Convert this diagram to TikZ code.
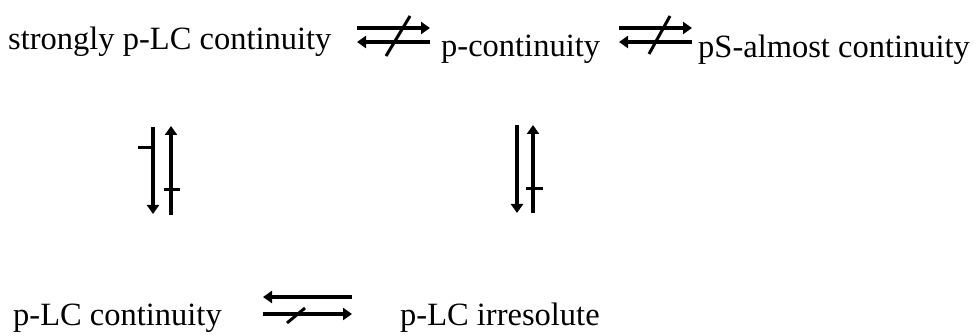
\documentclass[tikz,border=0pt]{standalone}
\usepackage{fontspec}
\setmainfont{Liberation Serif}
\usetikzlibrary{arrows.meta}
\begin{document}
\begin{tikzpicture}[x=1pt,y=-1pt,
 lbl/.style={inner sep=0pt, anchor=base west, font=\fontsize{32.5}{39}\selectfont},
 arr/.style={line width=3.6pt, -{Triangle[length=9pt,width=12pt]}},
 bar/.style={line width=3pt}]
\useasboundingbox (0,0) rectangle (979,336);
% texts
\node[lbl] (slc) at (8,50) {strongly p-LC continuity};
\node[lbl] (pc) at (441,57) {p-continuity};
\node[lbl] (psa) at (698,58) {pS-almost continuity};
\node[lbl] (plc) at (13,326) {p-LC continuity};
\node[lbl] (plci) at (400,326) {p-LC irresolute};
% top left pair
\coordinate (a1) at (357,28); \coordinate (a2) at (430,28);
\coordinate (b1) at (357,42); \coordinate (b2) at (430,42);
\coordinate (s1) at (386,56); \coordinate (s2) at (410,16);
\draw[arr] (a1) -- (a2);
\draw[arr] (b2) -- (b1);
\draw[bar] (s1) -- (s2);
% top right pair
\coordinate (c1) at (619,28); \coordinate (c2) at (692,28);
\coordinate (d1) at (619,42); \coordinate (d2) at (692,42);
\coordinate (t1) at (649,54); \coordinate (t2) at (670,16);
\draw[arr] (c1) -- (c2);
\draw[arr] (d2) -- (d1);
\draw[bar] (t1) -- (t2);
% left vertical pair
\coordinate (e1) at (153,127); \coordinate (e2) at (153,214);
\coordinate (f1) at (171,215); \coordinate (f2) at (171,126);
\coordinate (g1) at (138,148); \coordinate (g2) at (153,148);
\coordinate (h1) at (164,190); \coordinate (h2) at (180,190);
\draw[arr] (e1) -- (e2);
\draw[arr] (f1) -- (f2);
\draw[bar] (g1) -- (g2);
\draw[bar] (h1) -- (h2);
% right vertical pair
\coordinate (i1) at (517,125); \coordinate (i2) at (517,213);
\coordinate (j1) at (533,213); \coordinate (j2) at (533,125);
\coordinate (k1) at (526,189); \coordinate (k2) at (543,189);
\draw[arr] (i1) -- (i2);
\draw[arr] (j1) -- (j2);
\draw[bar] (k1) -- (k2);
% bottom pair
\coordinate (m1) at (352,297); \coordinate (m2) at (263,297);
\coordinate (n1) at (263,314); \coordinate (n2) at (352,314);
\coordinate (o1) at (287,323); \coordinate (o2) at (305,308);
\draw[arr] (m1) -- (m2);
\draw[arr] (n1) -- (n2);
\draw[bar] (o1) -- (o2);
\end{tikzpicture}
\end{document}
